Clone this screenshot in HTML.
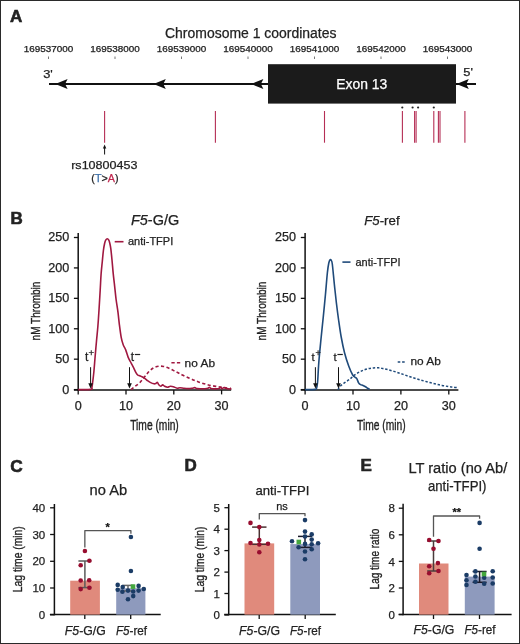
<!DOCTYPE html>
<html><head><meta charset="utf-8"><title>Figure</title>
<style>
html,body{margin:0;padding:0;background:#fff;}
body{width:520px;height:644px;overflow:hidden;}
svg{display:block;font-family:"Liberation Sans", sans-serif;will-change:transform;}

</style></head>
<body>
<svg width="520" height="644" viewBox="0 0 520 644" fill="#222">
<rect x="0.5" y="0.5" width="519" height="643" fill="#fff" stroke="#2a2a2a" stroke-width="1"/>
<text x="10.00" y="22.30" font-size="17" font-weight="bold" stroke="#222" stroke-width="0.6">A</text>
<text x="165.00" y="38.40" font-size="14" textLength="171.50" lengthAdjust="spacingAndGlyphs"  stroke="#222" stroke-width="0.25">Chromosome 1 coordinates</text>
<text x="48.50" y="52.00" font-size="8.4" text-anchor="middle" textLength="49.50" lengthAdjust="spacingAndGlyphs"  stroke="#222" stroke-width="0.25">169537000</text>
<line x1="48.50" y1="56.50" x2="48.50" y2="59.00" stroke="#777" stroke-width="1" />
<text x="115.00" y="52.00" font-size="8.4" text-anchor="middle" textLength="49.50" lengthAdjust="spacingAndGlyphs"  stroke="#222" stroke-width="0.25">169538000</text>
<line x1="115.00" y1="56.50" x2="115.00" y2="59.00" stroke="#777" stroke-width="1" />
<text x="181.50" y="52.00" font-size="8.4" text-anchor="middle" textLength="49.50" lengthAdjust="spacingAndGlyphs"  stroke="#222" stroke-width="0.25">169539000</text>
<line x1="181.50" y1="56.50" x2="181.50" y2="59.00" stroke="#777" stroke-width="1" />
<text x="248.00" y="52.00" font-size="8.4" text-anchor="middle" textLength="49.50" lengthAdjust="spacingAndGlyphs"  stroke="#222" stroke-width="0.25">169540000</text>
<line x1="248.00" y1="56.50" x2="248.00" y2="59.00" stroke="#777" stroke-width="1" />
<text x="314.50" y="52.00" font-size="8.4" text-anchor="middle" textLength="49.50" lengthAdjust="spacingAndGlyphs"  stroke="#222" stroke-width="0.25">169541000</text>
<line x1="314.50" y1="56.50" x2="314.50" y2="59.00" stroke="#777" stroke-width="1" />
<text x="381.00" y="52.00" font-size="8.4" text-anchor="middle" textLength="49.50" lengthAdjust="spacingAndGlyphs"  stroke="#222" stroke-width="0.25">169542000</text>
<line x1="381.00" y1="56.50" x2="381.00" y2="59.00" stroke="#777" stroke-width="1" />
<text x="447.50" y="52.00" font-size="8.4" text-anchor="middle" textLength="49.50" lengthAdjust="spacingAndGlyphs"  stroke="#222" stroke-width="0.25">169543000</text>
<line x1="447.50" y1="56.50" x2="447.50" y2="59.00" stroke="#777" stroke-width="1" />
<line x1="49.00" y1="84.00" x2="476.00" y2="84.00" stroke="#111" stroke-width="2" />
<path d="M55.30,84 L67.60,79.1 L65.10,84 L67.60,88.9 Z" fill="#111"/>
<path d="M153.50,84 L165.80,79.1 L163.30,84 L165.80,88.9 Z" fill="#111"/>
<path d="M251.10,84 L263.40,79.1 L260.90,84 L263.40,88.9 Z" fill="#111"/>
<path d="M456.50,84 L468.80,79.1 L466.30,84 L468.80,88.9 Z" fill="#111"/>
<rect x="268.00" y="64.20" width="188.00" height="39.40" fill="#1b1b1b"/>
<text x="336.20" y="88.70" font-size="14" textLength="51.00" lengthAdjust="spacingAndGlyphs" fill="#fff"  stroke="#fff" stroke-width="0.25">Exon 13</text>
<text x="43.20" y="78.00" font-size="11" textLength="9.60" lengthAdjust="spacingAndGlyphs"  stroke="#222" stroke-width="0.25">3'</text>
<text x="463.30" y="75.60" font-size="11" textLength="9.60" lengthAdjust="spacingAndGlyphs"  stroke="#222" stroke-width="0.25">5'</text>
<line x1="104.60" y1="111.00" x2="104.60" y2="142.70" stroke="#b52e55" stroke-width="1.1" />
<line x1="215.40" y1="111.00" x2="215.40" y2="142.70" stroke="#b52e55" stroke-width="1.1" />
<line x1="324.50" y1="111.00" x2="324.50" y2="142.70" stroke="#b52e55" stroke-width="1.1" />
<line x1="402.40" y1="111.00" x2="402.40" y2="142.70" stroke="#b52e55" stroke-width="1.1" />
<line x1="414.60" y1="111.00" x2="414.60" y2="142.70" stroke="#b52e55" stroke-width="1.1" />
<line x1="416.10" y1="111.00" x2="416.10" y2="142.70" stroke="#b52e55" stroke-width="1.1" />
<line x1="433.80" y1="111.00" x2="433.80" y2="142.70" stroke="#b52e55" stroke-width="1.1" />
<line x1="438.40" y1="111.00" x2="438.40" y2="142.70" stroke="#b52e55" stroke-width="1.1" />
<line x1="440.00" y1="111.00" x2="440.00" y2="142.70" stroke="#b52e55" stroke-width="1.1" />
<line x1="464.90" y1="111.00" x2="464.90" y2="142.70" stroke="#b52e55" stroke-width="1.1" />
<circle cx="402.30" cy="107.50" r="1.1" fill="#222"/>
<circle cx="412.60" cy="107.50" r="1.1" fill="#222"/>
<circle cx="418.10" cy="107.50" r="1.1" fill="#222"/>
<circle cx="433.80" cy="107.50" r="1.1" fill="#222"/>
<line x1="104.60" y1="147.00" x2="104.60" y2="154.50" stroke="#111" stroke-width="1" />
<path d="M104.6,144.6 L102.9,148.6 L106.3,148.6 Z" fill="#111"/>
<text x="71.20" y="169.10" font-size="11.5" textLength="66.20" lengthAdjust="spacingAndGlyphs"  stroke="#222" stroke-width="0.25">rs10800453</text>
<text x="91.3" y="182.3" font-size="11.2" fill="#222" textLength="27.2" lengthAdjust="spacingAndGlyphs" stroke="#222" stroke-width="0.25">(<tspan fill="#3b6ea8" stroke="#3b6ea8">T</tspan>&gt;<tspan fill="#c0244c" stroke="#c0244c">A</tspan>)</text>
<text x="10.50" y="224.00" font-size="17" font-weight="bold" stroke="#222" stroke-width="0.6">B</text>
<line x1="78.20" y1="233.00" x2="78.20" y2="390.70" stroke="#111" stroke-width="1.5" />
<line x1="73.90" y1="390.00" x2="231.16" y2="390.00" stroke="#111" stroke-width="1.5" />
<line x1="73.90" y1="389.60" x2="78.20" y2="389.60" stroke="#111" stroke-width="1.3" />
<text x="69.20" y="393.50" font-size="12.6" text-anchor="end"  stroke="#222" stroke-width="0.25">0</text>
<line x1="73.90" y1="359.18" x2="78.20" y2="359.18" stroke="#111" stroke-width="1.3" />
<text x="69.20" y="363.08" font-size="12.6" text-anchor="end"  stroke="#222" stroke-width="0.25">50</text>
<line x1="73.90" y1="328.76" x2="78.20" y2="328.76" stroke="#111" stroke-width="1.3" />
<text x="69.20" y="332.66" font-size="12.6" text-anchor="end"  stroke="#222" stroke-width="0.25">100</text>
<line x1="73.90" y1="298.34" x2="78.20" y2="298.34" stroke="#111" stroke-width="1.3" />
<text x="69.20" y="302.24" font-size="12.6" text-anchor="end"  stroke="#222" stroke-width="0.25">150</text>
<line x1="73.90" y1="267.92" x2="78.20" y2="267.92" stroke="#111" stroke-width="1.3" />
<text x="69.20" y="271.82" font-size="12.6" text-anchor="end"  stroke="#222" stroke-width="0.25">200</text>
<line x1="73.90" y1="237.50" x2="78.20" y2="237.50" stroke="#111" stroke-width="1.3" />
<text x="69.20" y="241.40" font-size="12.6" text-anchor="end"  stroke="#222" stroke-width="0.25">250</text>
<line x1="78.20" y1="390.00" x2="78.20" y2="394.40" stroke="#111" stroke-width="1.3" />
<text x="78.20" y="409.60" font-size="12.6" text-anchor="middle"  stroke="#222" stroke-width="0.25">0</text>
<line x1="126.00" y1="390.00" x2="126.00" y2="394.40" stroke="#111" stroke-width="1.3" />
<text x="126.00" y="409.60" font-size="12.6" text-anchor="middle"  stroke="#222" stroke-width="0.25">10</text>
<line x1="173.80" y1="390.00" x2="173.80" y2="394.40" stroke="#111" stroke-width="1.3" />
<text x="173.80" y="409.60" font-size="12.6" text-anchor="middle"  stroke="#222" stroke-width="0.25">20</text>
<line x1="221.60" y1="390.00" x2="221.60" y2="394.40" stroke="#111" stroke-width="1.3" />
<text x="221.60" y="409.60" font-size="12.6" text-anchor="middle"  stroke="#222" stroke-width="0.25">30</text>
<text x="0" y="0" font-size="13.5" text-anchor="middle" transform="translate(39.60,311.00) rotate(-90)" textLength="58.80" lengthAdjust="spacingAndGlyphs" stroke="#222" stroke-width="0.35">nM Thrombin</text>
<text x="130.20" y="429.70" font-size="14" textLength="48.60" lengthAdjust="spacingAndGlyphs" stroke="#222" stroke-width="0.35">Time (min)</text>
<text x="131.0" y="224.6" font-size="14" fill="#222" textLength="48.2" lengthAdjust="spacingAndGlyphs" stroke="#222" stroke-width="0.25"><tspan font-style="italic">F5</tspan>-G/G</text>
<path d="M78.20,389.60 C80.30,389.57 88.52,389.75 90.80,389.40 C93.08,389.05 91.58,388.73 91.90,387.50 C92.22,386.27 92.37,384.67 92.70,382.00 C93.03,379.33 93.50,375.67 93.90,371.50 C94.30,367.33 94.67,362.08 95.10,357.00 C95.53,351.92 96.03,346.17 96.50,341.00 C96.97,335.83 97.48,331.17 97.90,326.00 C98.32,320.83 98.62,316.00 99.00,310.00 C99.38,304.00 99.85,296.00 100.20,290.00 C100.55,284.00 100.75,278.75 101.10,274.00 C101.45,269.25 101.92,265.42 102.30,261.50 C102.68,257.58 103.02,253.50 103.40,250.50 C103.78,247.50 104.22,245.22 104.60,243.50 C104.98,241.78 105.25,240.98 105.70,240.20 C106.15,239.42 106.78,238.80 107.30,238.80 C107.82,238.80 108.38,239.45 108.80,240.20 C109.22,240.95 109.47,241.90 109.80,243.30 C110.13,244.70 110.43,245.82 110.80,248.60 C111.17,251.38 111.60,255.87 112.00,260.00 C112.40,264.13 112.77,269.10 113.20,273.40 C113.63,277.70 114.12,281.45 114.60,285.80 C115.08,290.15 115.53,295.07 116.10,299.50 C116.67,303.93 117.45,308.18 118.00,312.40 C118.55,316.62 118.87,320.65 119.40,324.80 C119.93,328.95 120.57,333.98 121.20,337.30 C121.83,340.62 122.45,342.60 123.20,344.70 C123.95,346.80 124.88,347.83 125.70,349.90 C126.52,351.97 127.33,355.17 128.10,357.10 C128.87,359.03 129.50,359.97 130.30,361.50 C131.10,363.03 131.98,364.50 132.90,366.30 C133.82,368.10 135.00,370.85 135.80,372.30 C136.60,373.75 137.07,374.42 137.70,375.00 C138.33,375.58 138.97,375.53 139.60,375.80 C140.23,376.07 140.70,376.22 141.50,376.60 C142.30,376.98 143.43,377.45 144.40,378.10 C145.37,378.75 146.33,379.78 147.30,380.50 C148.27,381.22 149.08,381.85 150.20,382.40 C151.32,382.95 153.03,383.63 154.00,383.80 C154.97,383.97 155.43,383.63 156.00,383.40 C156.57,383.17 156.93,382.17 157.40,382.40 C157.87,382.63 158.23,384.15 158.80,384.80 C159.37,385.45 160.15,386.30 160.80,386.30 C161.45,386.30 162.07,384.80 162.70,384.80 C163.33,384.80 163.80,385.90 164.60,386.30 C165.40,386.70 166.53,387.20 167.50,387.20 C168.47,387.20 169.43,386.38 170.40,386.30 C171.37,386.22 172.18,386.38 173.30,386.70 C174.42,387.02 175.98,388.03 177.10,388.20 C178.22,388.37 178.85,387.68 180.00,387.70 C181.15,387.72 182.67,388.15 184.00,388.30 C185.33,388.45 186.67,388.60 188.00,388.60 C189.33,388.60 190.87,388.47 192.00,388.30 C193.13,388.13 193.97,387.55 194.80,387.60 C195.63,387.65 195.97,388.40 197.00,388.60 C198.03,388.80 199.67,388.78 201.00,388.80 C202.33,388.82 203.83,388.80 205.00,388.70 C206.17,388.60 207.25,388.43 208.00,388.20 C208.75,387.97 209.00,387.25 209.50,387.30 C210.00,387.35 210.08,388.23 211.00,388.50 C211.92,388.77 213.67,388.88 215.00,388.90 C216.33,388.92 218.08,388.87 219.00,388.60 C219.92,388.33 220.00,387.30 220.50,387.30 C221.00,387.30 221.42,388.55 222.00,388.60 C222.58,388.65 223.33,387.62 224.00,387.60 C224.67,387.58 225.33,388.30 226.00,388.50 C226.67,388.70 227.08,388.72 228.00,388.80 C228.92,388.88 230.92,388.97 231.50,389.00" fill="none" stroke="#a01840" stroke-width="1.6" stroke-linejoin="round"/>
<path d="M131.00,389.60 C131.58,389.13 133.07,387.92 134.50,386.80 C135.93,385.68 137.95,384.52 139.60,382.90 C141.25,381.28 142.80,379.03 144.40,377.10 C146.00,375.17 147.60,372.88 149.20,371.30 C150.80,369.72 152.40,368.45 154.00,367.60 C155.60,366.75 157.18,366.38 158.80,366.20 C160.42,366.02 162.08,366.20 163.70,366.50 C165.32,366.80 166.90,367.35 168.50,368.00 C170.10,368.65 171.70,369.60 173.30,370.40 C174.90,371.20 176.48,371.98 178.10,372.80 C179.72,373.62 181.12,374.38 183.00,375.30 C184.88,376.22 187.57,377.48 189.40,378.30 C191.23,379.12 192.48,379.60 194.00,380.20 C195.52,380.80 197.00,381.37 198.50,381.90 C200.00,382.43 201.48,382.93 203.00,383.40 C204.52,383.87 206.10,384.32 207.60,384.70 C209.10,385.08 210.47,385.40 212.00,385.70 C213.53,386.00 215.22,386.25 216.80,386.50 C218.38,386.75 219.98,386.98 221.50,387.20 C223.02,387.42 224.32,387.60 225.90,387.80 C227.48,388.00 230.15,388.30 231.00,388.40" fill="none" stroke="#a01840" stroke-width="1.6" stroke-dasharray="3.2,2.4" stroke-linejoin="round"/>
<line x1="114.70" y1="241.70" x2="123.50" y2="241.70" stroke="#a01840" stroke-width="1.6" />
<text x="128.00" y="245.30" font-size="11" textLength="45.20" lengthAdjust="spacingAndGlyphs"  stroke="#222" stroke-width="0.25">anti-TFPI</text>
<line x1="171.40" y1="362.80" x2="180.20" y2="362.80" stroke="#a01840" stroke-width="1.6" stroke-dasharray="3.3,2.2"/>
<text x="184.60" y="366.50" font-size="11" textLength="30.40" lengthAdjust="spacingAndGlyphs"  stroke="#222" stroke-width="0.25">no Ab</text>
<line x1="90.60" y1="367.20" x2="90.60" y2="385.00" stroke="#111" stroke-width="1" />
<path d="M90.60,388.6 L88.30,383.2 L92.90,383.2 Z" fill="#111"/>
<line x1="129.50" y1="367.20" x2="129.50" y2="385.00" stroke="#111" stroke-width="1" />
<path d="M129.50,388.6 L127.20,383.2 L131.80,383.2 Z" fill="#111"/>
<text x="85.00" y="360.60" font-size="12"  stroke="#222" stroke-width="0.25">t</text>
<text x="88.50" y="355.90" font-size="9.5"  stroke="#222" stroke-width="0.25">+</text>
<text x="130.80" y="360.60" font-size="12"  stroke="#222" stroke-width="0.25">t</text>
<line x1="134.80" y1="354.50" x2="140.20" y2="354.50" stroke="#222" stroke-width="1.2" />
<line x1="305.10" y1="233.00" x2="305.10" y2="390.70" stroke="#111" stroke-width="1.5" />
<line x1="300.80" y1="390.00" x2="458.38" y2="390.00" stroke="#111" stroke-width="1.5" />
<line x1="300.80" y1="389.60" x2="305.10" y2="389.60" stroke="#111" stroke-width="1.3" />
<text x="296.10" y="393.50" font-size="12.6" text-anchor="end"  stroke="#222" stroke-width="0.25">0</text>
<line x1="300.80" y1="359.18" x2="305.10" y2="359.18" stroke="#111" stroke-width="1.3" />
<text x="296.10" y="363.08" font-size="12.6" text-anchor="end"  stroke="#222" stroke-width="0.25">50</text>
<line x1="300.80" y1="328.76" x2="305.10" y2="328.76" stroke="#111" stroke-width="1.3" />
<text x="296.10" y="332.66" font-size="12.6" text-anchor="end"  stroke="#222" stroke-width="0.25">100</text>
<line x1="300.80" y1="298.34" x2="305.10" y2="298.34" stroke="#111" stroke-width="1.3" />
<text x="296.10" y="302.24" font-size="12.6" text-anchor="end"  stroke="#222" stroke-width="0.25">150</text>
<line x1="300.80" y1="267.92" x2="305.10" y2="267.92" stroke="#111" stroke-width="1.3" />
<text x="296.10" y="271.82" font-size="12.6" text-anchor="end"  stroke="#222" stroke-width="0.25">200</text>
<line x1="300.80" y1="237.50" x2="305.10" y2="237.50" stroke="#111" stroke-width="1.3" />
<text x="296.10" y="241.40" font-size="12.6" text-anchor="end"  stroke="#222" stroke-width="0.25">250</text>
<line x1="305.10" y1="390.00" x2="305.10" y2="394.40" stroke="#111" stroke-width="1.3" />
<text x="305.10" y="409.60" font-size="12.6" text-anchor="middle"  stroke="#222" stroke-width="0.25">0</text>
<line x1="353.00" y1="390.00" x2="353.00" y2="394.40" stroke="#111" stroke-width="1.3" />
<text x="353.00" y="409.60" font-size="12.6" text-anchor="middle"  stroke="#222" stroke-width="0.25">10</text>
<line x1="400.90" y1="390.00" x2="400.90" y2="394.40" stroke="#111" stroke-width="1.3" />
<text x="400.90" y="409.60" font-size="12.6" text-anchor="middle"  stroke="#222" stroke-width="0.25">20</text>
<line x1="448.80" y1="390.00" x2="448.80" y2="394.40" stroke="#111" stroke-width="1.3" />
<text x="448.80" y="409.60" font-size="12.6" text-anchor="middle"  stroke="#222" stroke-width="0.25">30</text>
<text x="0" y="0" font-size="13.5" text-anchor="middle" transform="translate(266.20,311.00) rotate(-90)" textLength="58.80" lengthAdjust="spacingAndGlyphs" stroke="#222" stroke-width="0.35">nM Thrombin</text>
<text x="357.00" y="429.70" font-size="14" textLength="48.60" lengthAdjust="spacingAndGlyphs" stroke="#222" stroke-width="0.35">Time (min)</text>
<text x="364.2" y="224.6" font-size="13.3" fill="#222" textLength="35.4" lengthAdjust="spacingAndGlyphs" stroke="#222" stroke-width="0.25"><tspan font-style="italic">F5</tspan>-ref</text>
<path d="M305.10,389.60 C306.78,389.57 313.28,389.67 315.20,389.40 C317.12,389.13 316.20,389.23 316.60,388.00 C317.00,386.77 317.23,386.23 317.60,382.00 C317.97,377.77 318.25,369.60 318.80,362.60 C319.35,355.60 320.17,347.50 320.90,340.00 C321.63,332.50 322.45,325.10 323.20,317.60 C323.95,310.10 324.70,302.52 325.40,295.00 C326.10,287.48 326.83,277.83 327.40,272.50 C327.97,267.17 328.33,265.15 328.80,263.00 C329.27,260.85 329.78,260.02 330.20,259.60 C330.62,259.18 330.95,259.77 331.30,260.50 C331.65,261.23 331.80,260.12 332.30,264.00 C332.80,267.88 333.62,277.30 334.30,283.80 C334.98,290.30 335.68,296.97 336.40,303.00 C337.12,309.03 337.80,314.33 338.60,320.00 C339.40,325.67 340.20,331.50 341.20,337.00 C342.20,342.50 343.35,348.17 344.60,353.00 C345.85,357.83 347.35,362.33 348.70,366.00 C350.05,369.67 351.62,373.12 352.70,375.00 C353.78,376.88 354.52,376.70 355.20,377.30 C355.88,377.90 356.23,377.68 356.80,378.60 C357.37,379.52 357.98,381.80 358.60,382.80 C359.22,383.80 359.77,384.17 360.50,384.60 C361.23,385.03 362.17,385.03 363.00,385.40 C363.83,385.77 364.75,386.33 365.50,386.80 C366.25,387.27 366.78,387.78 367.50,388.20 C368.22,388.62 369.42,389.12 369.80,389.30" fill="none" stroke="#1f4a7a" stroke-width="1.6" stroke-linejoin="round"/>
<path d="M338.00,389.60 C338.33,389.08 339.00,387.57 340.00,386.50 C341.00,385.43 342.40,384.40 344.00,383.20 C345.60,382.00 347.93,380.58 349.60,379.30 C351.27,378.02 352.40,376.70 354.00,375.50 C355.60,374.30 357.53,373.02 359.20,372.10 C360.87,371.18 362.40,370.60 364.00,370.00 C365.60,369.40 367.22,368.85 368.80,368.50 C370.38,368.15 371.88,368.02 373.50,367.90 C375.12,367.78 376.92,367.68 378.50,367.80 C380.08,367.92 381.42,368.28 383.00,368.60 C384.58,368.92 386.17,369.23 388.00,369.70 C389.83,370.17 392.00,370.80 394.00,371.40 C396.00,372.00 398.00,372.63 400.00,373.30 C402.00,373.97 404.00,374.72 406.00,375.40 C408.00,376.08 410.00,376.75 412.00,377.40 C414.00,378.05 415.98,378.70 418.00,379.30 C420.02,379.90 422.10,380.45 424.10,381.00 C426.10,381.55 427.98,382.08 430.00,382.60 C432.02,383.12 434.20,383.63 436.20,384.10 C438.20,384.57 440.00,385.00 442.00,385.40 C444.00,385.80 446.37,386.20 448.20,386.50 C450.03,386.80 451.40,387.00 453.00,387.20 C454.60,387.40 457.00,387.62 457.80,387.70" fill="none" stroke="#1f4a7a" stroke-width="1.5" stroke-dasharray="2.4,1.8" stroke-linejoin="round"/>
<line x1="342.40" y1="262.10" x2="350.50" y2="262.10" stroke="#1f4a7a" stroke-width="1.6" />
<text x="355.50" y="265.50" font-size="11" textLength="45.00" lengthAdjust="spacingAndGlyphs"  stroke="#222" stroke-width="0.25">anti-TFPI</text>
<line x1="397.70" y1="362.00" x2="406.50" y2="362.00" stroke="#1f4a7a" stroke-width="1.5" stroke-dasharray="2.6,1.8"/>
<text x="410.50" y="365.40" font-size="11" textLength="30.40" lengthAdjust="spacingAndGlyphs"  stroke="#222" stroke-width="0.25">no Ab</text>
<line x1="315.40" y1="367.20" x2="315.40" y2="385.00" stroke="#111" stroke-width="1" />
<path d="M315.40,388.6 L313.10,383.2 L317.70,383.2 Z" fill="#111"/>
<line x1="338.50" y1="367.20" x2="338.50" y2="385.00" stroke="#111" stroke-width="1" />
<path d="M338.50,388.6 L336.20,383.2 L340.80,383.2 Z" fill="#111"/>
<text x="311.50" y="360.50" font-size="11.5"  stroke="#222" stroke-width="0.25">t</text>
<text x="315.60" y="355.90" font-size="9.0"  stroke="#222" stroke-width="0.25">+</text>
<text x="333.60" y="360.50" font-size="11.5"  stroke="#222" stroke-width="0.25">t</text>
<line x1="337.40" y1="354.50" x2="342.80" y2="354.50" stroke="#222" stroke-width="1.2" />
<text x="10.30" y="471.70" font-size="17.3" font-weight="bold" stroke="#222" stroke-width="0.6">C</text>
<text x="89.60" y="495.30" font-size="14" textLength="37.60" lengthAdjust="spacingAndGlyphs"  stroke="#222" stroke-width="0.25">no Ab</text>
<line x1="54.40" y1="504.00" x2="54.40" y2="615.30" stroke="#111" stroke-width="1.5" />
<line x1="49.90" y1="614.60" x2="160.70" y2="614.60" stroke="#111" stroke-width="1.5" />
<line x1="50.10" y1="614.80" x2="54.40" y2="614.80" stroke="#111" stroke-width="1.3" />
<text x="45.20" y="618.90" font-size="11.5" text-anchor="end"  stroke="#222" stroke-width="0.25">0</text>
<line x1="50.10" y1="588.00" x2="54.40" y2="588.00" stroke="#111" stroke-width="1.3" />
<text x="45.20" y="592.10" font-size="11.5" text-anchor="end"  stroke="#222" stroke-width="0.25">10</text>
<line x1="50.10" y1="561.30" x2="54.40" y2="561.30" stroke="#111" stroke-width="1.3" />
<text x="45.20" y="565.40" font-size="11.5" text-anchor="end"  stroke="#222" stroke-width="0.25">20</text>
<line x1="50.10" y1="534.50" x2="54.40" y2="534.50" stroke="#111" stroke-width="1.3" />
<text x="45.20" y="538.60" font-size="11.5" text-anchor="end"  stroke="#222" stroke-width="0.25">30</text>
<line x1="50.10" y1="507.80" x2="54.40" y2="507.80" stroke="#111" stroke-width="1.3" />
<text x="45.20" y="511.90" font-size="11.5" text-anchor="end"  stroke="#222" stroke-width="0.25">40</text>
<line x1="84.80" y1="614.60" x2="84.80" y2="619.00" stroke="#111" stroke-width="1.3" />
<line x1="130.70" y1="614.60" x2="130.70" y2="619.00" stroke="#111" stroke-width="1.3" />
<text x="0" y="0" font-size="13.3" text-anchor="middle" transform="translate(22.30,559.20) rotate(-90)" textLength="66.00" lengthAdjust="spacingAndGlyphs" stroke="#222" stroke-width="0.35">Lag time (min)</text>
<rect x="70.20" y="580.70" width="29.70" height="33.90" fill="#e08a7c"/>
<rect x="116.20" y="588.30" width="29.20" height="26.30" fill="#8e9abd"/>
<path d="M84.85,547.50 L84.85,530.60 L130.90,530.60 L130.90,533.80" fill="none" stroke="#555" stroke-width="1.3" stroke-linejoin="round"/>
<text x="107.60" y="530.80" font-size="11" text-anchor="middle" font-weight="bold" fill="#111"  stroke="#111" stroke-width="0.25">*</text>
<line x1="84.90" y1="561.00" x2="84.90" y2="587.60" stroke="#5a5a5a" stroke-width="1.5" />
<line x1="78.40" y1="561.00" x2="91.40" y2="561.00" stroke="#5a5a5a" stroke-width="1.5" />
<line x1="78.40" y1="587.60" x2="91.40" y2="587.60" stroke="#5a5a5a" stroke-width="1.5" />
<circle cx="84.90" cy="551.00" r="2.3" fill="#980d2f"/>
<circle cx="89.40" cy="560.70" r="2.3" fill="#980d2f"/>
<circle cx="80.70" cy="565.20" r="2.3" fill="#980d2f"/>
<circle cx="80.70" cy="580.50" r="2.3" fill="#980d2f"/>
<circle cx="89.20" cy="580.30" r="2.3" fill="#980d2f"/>
<circle cx="80.70" cy="589.10" r="2.3" fill="#980d2f"/>
<circle cx="89.40" cy="587.70" r="2.3" fill="#980d2f"/>
<line x1="128.00" y1="585.40" x2="128.00" y2="591.00" stroke="#666" stroke-width="1.5" />
<line x1="122.50" y1="585.40" x2="133.50" y2="585.40" stroke="#666" stroke-width="1.5" />
<line x1="122.50" y1="591.00" x2="133.50" y2="591.00" stroke="#666" stroke-width="1.5" />
<circle cx="130.90" cy="537.00" r="2.3" fill="#1b3c66"/>
<circle cx="130.90" cy="571.00" r="2.3" fill="#1b3c66"/>
<circle cx="117.70" cy="584.90" r="2.3" fill="#1b3c66"/>
<circle cx="122.70" cy="587.10" r="2.3" fill="#1b3c66"/>
<circle cx="138.60" cy="585.90" r="2.3" fill="#1b3c66"/>
<circle cx="117.70" cy="589.80" r="2.3" fill="#1b3c66"/>
<circle cx="122.40" cy="591.70" r="2.3" fill="#1b3c66"/>
<circle cx="128.00" cy="590.60" r="2.3" fill="#1b3c66"/>
<circle cx="133.20" cy="591.50" r="2.3" fill="#1b3c66"/>
<circle cx="138.60" cy="590.60" r="2.3" fill="#1b3c66"/>
<circle cx="143.80" cy="589.00" r="2.3" fill="#1b3c66"/>
<circle cx="133.20" cy="596.10" r="2.3" fill="#1b3c66"/>
<circle cx="128.00" cy="599.30" r="2.3" fill="#1b3c66"/>
<rect x="130.70" y="584.30" width="4.60" height="4.60" fill="#44a83e"/>
<text x="64.80" y="634.8" font-size="12.2" fill="#222" textLength="40.9" lengthAdjust="spacingAndGlyphs" stroke="#222" stroke-width="0.25"><tspan font-style="italic">F5</tspan>-G/G</text>
<text x="116.00" y="634.8" font-size="12.2" fill="#222" textLength="31.1" lengthAdjust="spacingAndGlyphs" stroke="#222" stroke-width="0.25"><tspan font-style="italic">F5</tspan>-ref</text>
<text x="184.40" y="471.30" font-size="17" font-weight="bold" stroke="#222" stroke-width="0.6">D</text>
<text x="255.50" y="494.90" font-size="13" textLength="54.00" lengthAdjust="spacingAndGlyphs"  stroke="#222" stroke-width="0.25">anti-TFPI</text>
<line x1="228.70" y1="504.00" x2="228.70" y2="615.30" stroke="#111" stroke-width="1.5" />
<line x1="224.20" y1="614.60" x2="335.80" y2="614.60" stroke="#111" stroke-width="1.5" />
<line x1="224.40" y1="615.00" x2="228.70" y2="615.00" stroke="#111" stroke-width="1.3" />
<text x="220.00" y="619.10" font-size="11.5" text-anchor="end"  stroke="#222" stroke-width="0.25">0</text>
<line x1="224.40" y1="593.50" x2="228.70" y2="593.50" stroke="#111" stroke-width="1.3" />
<text x="220.00" y="597.60" font-size="11.5" text-anchor="end"  stroke="#222" stroke-width="0.25">1</text>
<line x1="224.40" y1="572.10" x2="228.70" y2="572.10" stroke="#111" stroke-width="1.3" />
<text x="220.00" y="576.20" font-size="11.5" text-anchor="end"  stroke="#222" stroke-width="0.25">2</text>
<line x1="224.40" y1="550.60" x2="228.70" y2="550.60" stroke="#111" stroke-width="1.3" />
<text x="220.00" y="554.70" font-size="11.5" text-anchor="end"  stroke="#222" stroke-width="0.25">3</text>
<line x1="224.40" y1="529.20" x2="228.70" y2="529.20" stroke="#111" stroke-width="1.3" />
<text x="220.00" y="533.30" font-size="11.5" text-anchor="end"  stroke="#222" stroke-width="0.25">4</text>
<line x1="224.40" y1="507.70" x2="228.70" y2="507.70" stroke="#111" stroke-width="1.3" />
<text x="220.00" y="511.80" font-size="11.5" text-anchor="end"  stroke="#222" stroke-width="0.25">5</text>
<line x1="259.20" y1="614.60" x2="259.20" y2="619.00" stroke="#111" stroke-width="1.3" />
<line x1="305.20" y1="614.60" x2="305.20" y2="619.00" stroke="#111" stroke-width="1.3" />
<text x="0" y="0" font-size="13.3" text-anchor="middle" transform="translate(204.20,559.40) rotate(-90)" textLength="65.50" lengthAdjust="spacingAndGlyphs" stroke="#222" stroke-width="0.35">Lag time (min)</text>
<rect x="244.50" y="543.40" width="29.70" height="71.20" fill="#e08a7c"/>
<rect x="290.30" y="544.10" width="29.70" height="70.50" fill="#8e9abd"/>
<path d="M259.30,519.60 L259.30,513.60 L305.00,513.60 L305.00,516.20" fill="none" stroke="#555" stroke-width="1.3" stroke-linejoin="round"/>
<text x="276.20" y="509.60" font-size="11" textLength="11.60" lengthAdjust="spacingAndGlyphs"  stroke="#222" stroke-width="0.25">ns</text>
<line x1="259.30" y1="527.10" x2="259.30" y2="544.30" stroke="#4a3030" stroke-width="1.5" />
<line x1="252.10" y1="527.10" x2="266.50" y2="527.10" stroke="#4a3030" stroke-width="1.5" />
<line x1="252.10" y1="544.30" x2="266.50" y2="544.30" stroke="#4a3030" stroke-width="1.5" />
<circle cx="250.50" cy="522.90" r="2.3" fill="#980d2f"/>
<circle cx="259.30" cy="527.10" r="2.3" fill="#980d2f"/>
<circle cx="259.30" cy="540.00" r="2.3" fill="#980d2f"/>
<circle cx="250.50" cy="543.00" r="2.3" fill="#980d2f"/>
<circle cx="259.30" cy="544.50" r="2.3" fill="#980d2f"/>
<circle cx="268.00" cy="543.70" r="2.3" fill="#980d2f"/>
<circle cx="259.30" cy="552.30" r="2.3" fill="#980d2f"/>
<line x1="305.00" y1="536.40" x2="305.00" y2="547.40" stroke="#1a1a2a" stroke-width="1.5" />
<line x1="298.00" y1="536.40" x2="312.00" y2="536.40" stroke="#1a1a2a" stroke-width="1.5" />
<line x1="298.00" y1="547.40" x2="312.00" y2="547.40" stroke="#1a1a2a" stroke-width="1.5" />
<circle cx="305.00" cy="520.10" r="2.3" fill="#1b3c66"/>
<circle cx="305.00" cy="531.60" r="2.3" fill="#1b3c66"/>
<circle cx="311.70" cy="534.40" r="2.3" fill="#1b3c66"/>
<circle cx="305.00" cy="536.50" r="2.3" fill="#1b3c66"/>
<circle cx="311.70" cy="539.60" r="2.3" fill="#1b3c66"/>
<circle cx="292.00" cy="541.20" r="2.3" fill="#1b3c66"/>
<circle cx="305.00" cy="543.90" r="2.3" fill="#1b3c66"/>
<circle cx="311.70" cy="544.30" r="2.3" fill="#1b3c66"/>
<circle cx="318.10" cy="543.30" r="2.3" fill="#1b3c66"/>
<circle cx="298.60" cy="547.20" r="2.3" fill="#1b3c66"/>
<circle cx="311.70" cy="549.20" r="2.3" fill="#1b3c66"/>
<circle cx="305.00" cy="551.50" r="2.3" fill="#1b3c66"/>
<circle cx="305.00" cy="559.30" r="2.3" fill="#1b3c66"/>
<rect x="296.50" y="539.70" width="4.60" height="4.60" fill="#44a83e"/>
<text x="239.10" y="634.8" font-size="12.2" fill="#222" textLength="40.9" lengthAdjust="spacingAndGlyphs" stroke="#222" stroke-width="0.25"><tspan font-style="italic">F5</tspan>-G/G</text>
<text x="289.90" y="634.8" font-size="12.2" fill="#222" textLength="31.1" lengthAdjust="spacingAndGlyphs" stroke="#222" stroke-width="0.25"><tspan font-style="italic">F5</tspan>-ref</text>
<text x="360.60" y="471.30" font-size="17" font-weight="bold" stroke="#222" stroke-width="0.6">E</text>
<text x="408.40" y="473.40" font-size="14" textLength="98.90" lengthAdjust="spacingAndGlyphs"  stroke="#222" stroke-width="0.25">LT ratio (no Ab/</text>
<text x="427.90" y="490.90" font-size="14" textLength="58.60" lengthAdjust="spacingAndGlyphs"  stroke="#222" stroke-width="0.25">anti-TFPI)</text>
<line x1="403.10" y1="503.70" x2="403.10" y2="615.30" stroke="#111" stroke-width="1.5" />
<line x1="398.60" y1="614.60" x2="511.60" y2="614.60" stroke="#111" stroke-width="1.5" />
<line x1="398.80" y1="614.50" x2="403.10" y2="614.50" stroke="#111" stroke-width="1.3" />
<text x="394.80" y="618.60" font-size="11.5" text-anchor="end"  stroke="#222" stroke-width="0.25">0</text>
<line x1="398.80" y1="588.00" x2="403.10" y2="588.00" stroke="#111" stroke-width="1.3" />
<text x="394.80" y="592.10" font-size="11.5" text-anchor="end"  stroke="#222" stroke-width="0.25">2</text>
<line x1="398.80" y1="561.40" x2="403.10" y2="561.40" stroke="#111" stroke-width="1.3" />
<text x="394.80" y="565.50" font-size="11.5" text-anchor="end"  stroke="#222" stroke-width="0.25">4</text>
<line x1="398.80" y1="534.80" x2="403.10" y2="534.80" stroke="#111" stroke-width="1.3" />
<text x="394.80" y="538.90" font-size="11.5" text-anchor="end"  stroke="#222" stroke-width="0.25">6</text>
<line x1="398.80" y1="508.20" x2="403.10" y2="508.20" stroke="#111" stroke-width="1.3" />
<text x="394.80" y="512.30" font-size="11.5" text-anchor="end"  stroke="#222" stroke-width="0.25">8</text>
<line x1="433.50" y1="614.60" x2="433.50" y2="619.00" stroke="#111" stroke-width="1.3" />
<line x1="479.50" y1="614.60" x2="479.50" y2="619.00" stroke="#111" stroke-width="1.3" />
<text x="0" y="0" font-size="13.3" text-anchor="middle" transform="translate(379.30,559.10) rotate(-90)" textLength="60.60" lengthAdjust="spacingAndGlyphs" stroke="#222" stroke-width="0.35">Lag time ratio</text>
<rect x="419.00" y="563.50" width="29.50" height="51.10" fill="#e08a7c"/>
<rect x="464.80" y="576.60" width="29.80" height="38.00" fill="#8e9abd"/>
<path d="M433.50,536.80 L433.50,516.00 L479.60,516.00 L479.60,518.70" fill="none" stroke="#555" stroke-width="1.3" stroke-linejoin="round"/>
<text x="456.80" y="516.30" font-size="11" text-anchor="middle" font-weight="bold" fill="#111"  stroke="#111" stroke-width="0.25">**</text>
<line x1="433.50" y1="541.00" x2="433.50" y2="571.00" stroke="#4a3c3c" stroke-width="1.5" />
<line x1="427.20" y1="541.00" x2="439.80" y2="541.00" stroke="#4a3c3c" stroke-width="1.5" />
<line x1="427.20" y1="571.00" x2="439.80" y2="571.00" stroke="#4a3c3c" stroke-width="1.5" />
<circle cx="429.20" cy="540.00" r="2.3" fill="#980d2f"/>
<circle cx="438.50" cy="541.00" r="2.3" fill="#980d2f"/>
<circle cx="433.50" cy="548.80" r="2.3" fill="#980d2f"/>
<circle cx="437.90" cy="563.10" r="2.3" fill="#980d2f"/>
<circle cx="429.20" cy="566.20" r="2.3" fill="#980d2f"/>
<circle cx="438.50" cy="571.00" r="2.3" fill="#980d2f"/>
<circle cx="429.20" cy="573.30" r="2.3" fill="#980d2f"/>
<line x1="479.60" y1="571.50" x2="479.60" y2="582.30" stroke="#1a1a2a" stroke-width="1.5" />
<line x1="472.60" y1="571.50" x2="486.60" y2="571.50" stroke="#1a1a2a" stroke-width="1.5" />
<line x1="472.60" y1="582.30" x2="486.60" y2="582.30" stroke="#1a1a2a" stroke-width="1.5" />
<circle cx="479.60" cy="522.90" r="2.3" fill="#1b3c66"/>
<circle cx="479.60" cy="548.80" r="2.3" fill="#1b3c66"/>
<circle cx="475.40" cy="571.40" r="2.3" fill="#1b3c66"/>
<circle cx="492.70" cy="571.20" r="2.3" fill="#1b3c66"/>
<circle cx="466.50" cy="575.00" r="2.3" fill="#1b3c66"/>
<circle cx="475.40" cy="576.50" r="2.3" fill="#1b3c66"/>
<circle cx="484.20" cy="577.80" r="2.3" fill="#1b3c66"/>
<circle cx="492.70" cy="577.50" r="2.3" fill="#1b3c66"/>
<circle cx="466.50" cy="580.20" r="2.3" fill="#1b3c66"/>
<circle cx="475.40" cy="581.70" r="2.3" fill="#1b3c66"/>
<circle cx="466.50" cy="585.00" r="2.3" fill="#1b3c66"/>
<circle cx="484.20" cy="583.80" r="2.3" fill="#1b3c66"/>
<circle cx="492.70" cy="583.50" r="2.3" fill="#1b3c66"/>
<rect x="481.70" y="571.70" width="4.60" height="4.60" fill="#44a83e"/>
<text x="413.50" y="633.8" font-size="12.2" fill="#222" textLength="40.9" lengthAdjust="spacingAndGlyphs" stroke="#222" stroke-width="0.25"><tspan font-style="italic">F5</tspan>-G/G</text>
<text x="464.40" y="633.8" font-size="12.2" fill="#222" textLength="31.1" lengthAdjust="spacingAndGlyphs" stroke="#222" stroke-width="0.25"><tspan font-style="italic">F5</tspan>-ref</text>
</svg>
</body></html>
